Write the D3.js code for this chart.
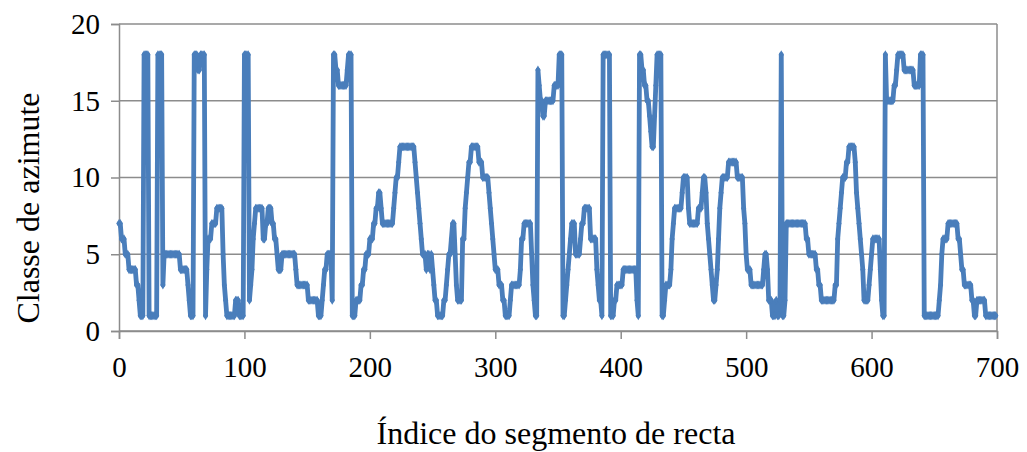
<!DOCTYPE html>
<html>
<head>
<meta charset="utf-8">
<script src="https://cdn.jsdelivr.net/npm/d3@7"></script>
<style>
  body { margin: 0; background: #fff; }
  text { font-family: "Liberation Serif", "Times New Roman", serif; fill: #000; }
</style>
</head>
<body>
<script>
// azimuth class per segment, stored as [class, how many consecutive segments]
var classRuns = [
  [7,2],[6,3],[5,3],[4,6],[3,2],[2,1],[1,3],[18,4],[1,7],[18,4],[3,1],[5,13],
  [4,6],[3,1],[2,1],[1,3],[18,3],[17,2],[18,4],[1,1],[4,1],[6,3],[7,4],[8,5],
  [5,1],[3,1],[2,1],[1,7],[2,3],[1,4],[18,4],[2,1],[3,1],[4,1],[6,1],[7,1],
  [8,6],[6,2],[7,2],[8,3],[7,2],[6,2],[5,1],[4,3],[5,11],[4,1],[3,9],[2,8],
  [1,3],[2,1],[3,1],[4,2],[5,4],[2,1],[18,2],[17,2],[16,7],[17,1],[18,3],[1,3],
  [2,4],[3,2],[4,2],[5,3],[6,3],[7,2],[8,2],[9,2],[8,1],[7,9],[8,1],[9,1],
  [10,2],[11,1],[12,12],[11,1],[10,1],[9,1],[8,1],[7,1],[6,1],[5,3],[4,1],[5,2],
  [4,1],[5,1],[4,1],[3,1],[2,2],[1,5],[2,2],[3,1],[4,1],[5,2],[6,1],[7,2],
  [5,1],[3,1],[2,4],[6,2],[8,1],[9,1],[10,1],[11,2],[12,6],[11,3],[10,5],[9,1],
  [8,1],[7,1],[6,1],[5,1],[4,3],[3,3],[2,2],[1,4],[2,1],[3,7],[4,1],[6,2],
  [7,6],[5,1],[3,1],[2,1],[1,2],[17,1],[16,1],[15,2],[14,2],[15,7],[16,4],[18,3],
  [1,2],[2,1],[3,1],[4,1],[5,1],[6,1],[7,3],[5,4],[6,1],[7,2],[8,5],[6,5],
  [4,1],[3,1],[2,2],[1,1],[18,6],[1,3],[2,2],[3,5],[4,11],[2,1],[1,1],[18,2],
  [17,2],[16,2],[15,2],[14,1],[13,1],[12,2],[14,1],[16,1],[18,4],[1,2],[2,1],[3,4],
  [4,1],[6,1],[7,1],[8,6],[9,1],[10,4],[8,1],[7,7],[8,3],[9,1],[10,2],[9,1],
  [7,1],[6,1],[5,1],[4,1],[3,1],[2,2],[3,1],[4,1],[6,1],[8,1],[9,1],[10,5],
  [11,7],[10,5],[8,1],[7,1],[5,1],[4,3],[3,10],[4,1],[5,2],[4,1],[2,3],[1,3],
  [2,1],[1,2],[2,1],[18,1],[1,2],[2,1],[7,16],[6,2],[5,6],[4,2],[3,2],[2,11],
  [3,2],[6,1],[7,1],[8,1],[9,1],[10,3],[11,2],[12,5],[11,1],[9,1],[8,1],[7,1],
  [6,1],[5,1],[4,1],[2,4],[3,1],[4,1],[5,1],[6,6],[4,1],[2,1],[1,2],[18,1],
  [15,6],[16,2],[17,1],[18,5],[17,8],[16,5],[18,3],[1,12],[2,1],[3,1],[5,1],[6,4],
  [7,8],[6,2],[5,1],[4,2],[3,6],[2,2],[1,2],[2,7],[1,9]
];

var xTicks = [0, 100, 200, 300, 400, 500, 600, 700];
var yTicks = [0, 5, 10, 15, 20];

var xLabel = 'Índice do segmento de recta';
var yLabel = 'Classe de azimute';

var classValues = [];
classRuns.forEach(function(run) {
    for (var k = 0; k < run[1]; k++) { classValues.push(run[0]); }
});

var WIDTH  = 1027;
var HEIGHT = 452;
var LEFT = 119, RIGHT = 997, TOP = 24, BOTTOM = 331;

var LINE  = '#4a7ebb';
var GRID  = '#8c8c8c';

var svg = d3.select('body')
            .append('svg')
            .attr('width', WIDTH)
            .attr('height', HEIGHT);

var x = d3.scaleLinear()
          .domain([0, 700])
          .range([LEFT, RIGHT]);

var y = d3.scaleLinear()
          .domain([0, 20])
          .range([BOTTOM, TOP]);

// horizontal grid lines
svg.selectAll('line.grid')
   .data(yTicks)
   .enter()
 .append('line')
   .attr('class', 'grid')
   .attr('x1', LEFT)
   .attr('x2', RIGHT)
   .attr('y1', function(d) { return y(d); })
   .attr('y2', function(d) { return y(d); })
   .attr('stroke', GRID)
   .attr('stroke-width', 1.5);

// right border of plot area
svg.append('line')
   .attr('x1', RIGHT).attr('x2', RIGHT)
   .attr('y1', TOP).attr('y2', BOTTOM)
   .attr('stroke', GRID)
   .attr('stroke-width', 1.5);

var xAxis = svg.append('g')
               .attr('transform', 'translate(0,' + BOTTOM + ')')
               .call(d3.axisBottom(x).tickValues(xTicks).tickSize(8).tickPadding(17));

var yAxis = svg.append('g')
               .attr('transform', 'translate(' + LEFT + ',0)')
               .call(d3.axisLeft(y).tickValues(yTicks).tickSize(8).tickPadding(11));

[xAxis, yAxis].forEach(function(g) {
    g.select('.domain').attr('stroke', GRID).attr('stroke-width', 1.5);
    g.selectAll('.tick line').attr('stroke', GRID).attr('stroke-width', 1.5);
    g.selectAll('.tick text')
     .attr('fill', '#000')
     .style('font-family', '"Liberation Serif", "Times New Roman", serif')
     .style('font-size', '29px');
});

var line = d3.line()
             .x(function(d, i) { return x(i); })
             .y(function(d) { return y(d); });

svg.append('path')
   .datum(classValues)
   .attr('d', line)
   .attr('fill', 'none')
   .attr('stroke', LINE)
   .attr('stroke-width', 4.8)
   .attr('stroke-linejoin', 'round')
   .attr('stroke-linecap', 'round');

svg.selectAll('path.marker')
   .data(classValues)
   .enter()
 .append('path')
   .attr('class', 'marker')
   .attr('d', d3.symbol().type(d3.symbolDiamond).size(24))
   .attr('transform', function(d, i) { return 'translate(' + x(i) + ',' + y(d) + ')'; })
   .attr('fill', LINE);

svg.append('text')
   .attr('x', 556)
   .attr('y', 444)
   .attr('text-anchor', 'middle')
   .style('font-size', '32px')
   .text(xLabel);

svg.append('text')
   .attr('transform', 'translate(39,' + 208 + ') rotate(-90)')
   .attr('text-anchor', 'middle')
   .style('font-size', '32px')
   .text(yLabel);
</script>
</body>
</html>
